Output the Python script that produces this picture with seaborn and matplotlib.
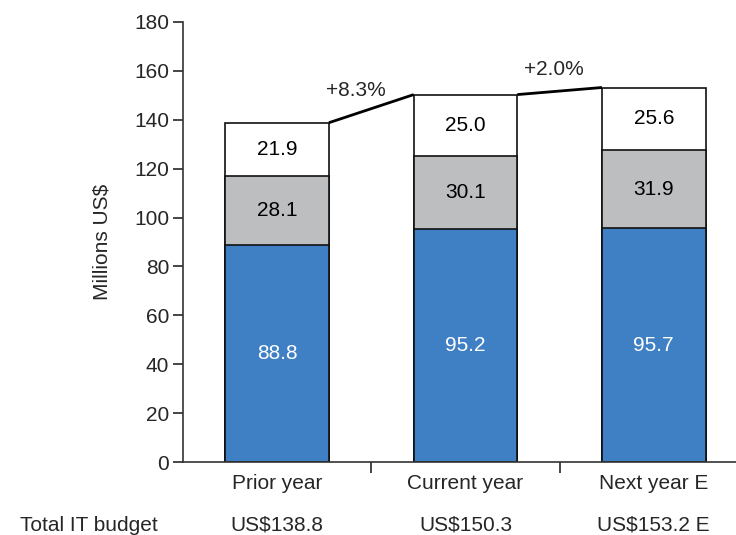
import numpy as np
import pandas as pd
import matplotlib
matplotlib.use('Agg')
import matplotlib.pyplot as plt
import seaborn as sb

categories = ['Prior year', 'Current year', 'Next year E']
blue_vals = [88.8, 95.2, 95.7]
grey_vals = [28.1, 30.1, 31.9]
white_vals = [21.9, 25.0, 25.6]
budget_labels = ['US$138.8', 'US$150.3', 'US$153.2 E']
growth_labels = ['+8.3%', '+2.0%']

sb.set_style('ticks')
plt.rcParams['font.family'] = ['Liberation Sans', 'DejaVu Sans']

df = pd.DataFrame({'cat': categories, 'blue': blue_vals, 'grey': grey_vals, 'white': white_vals})
df['bg'] = df.blue + df.grey
df['total'] = df.bg + df.white

fig = plt.figure(figsize=(7.36, 5.35), dpi=100)
ax = fig.add_axes([0.2486, 0.1364, 0.76, 0.8225])

w = 0.55
sb.barplot(data=df, x='cat', y='total', color='white', edgecolor='#111111', linewidth=1.2, width=w, saturation=1, ax=ax)
sb.barplot(data=df, x='cat', y='bg', color='#bcbec0', edgecolor='#111111', linewidth=1.2, width=w, saturation=1, ax=ax)
sb.barplot(data=df, x='cat', y='blue', color='#3f80c4', edgecolor='#111111', linewidth=1.2, width=w, saturation=1, ax=ax)

fs = 15
for i, r in df.iterrows():
    ax.text(i, r.blue / 2, f'{r.blue:.1f}', ha='center', va='center', color='white', fontsize=fs)
    ax.text(i, r.blue + r.grey / 2, f'{r.grey:.1f}', ha='center', va='center', color='black', fontsize=fs)
    ax.text(i, r.bg + r.white / 2, f'{r.white:.1f}', ha='center', va='center', color='black', fontsize=fs)

# connectors between bar tops
tot = df.total.values
for i in range(2):
    ax.plot([i + w / 2, i + 1 - w / 2], [tot[i], tot[i + 1]], color='black', lw=2, solid_capstyle='butt')
ax.text(0.42, 152, growth_labels[0], ha='center', va='center', fontsize=fs)
ax.text(1.47, 160.5, growth_labels[1], ha='center', va='center', fontsize=fs)

ax.set_xlim(-0.5, 2.47)
ax.set_ylim(0, 180)
ax.set_yticks(range(0, 181, 20))
ax.tick_params(axis='y', labelsize=fs, length=7, width=1.2, direction='out', pad=3)
ax.set_xticks([0.5, 1.5])
ax.set_xticklabels([])
ax.tick_params(axis='x', length=8, width=1.2, direction='out')
for i, c in enumerate(categories):
    ax.text(i, -5, c, ha='center', va='top', fontsize=fs)
    ax.text(i, -22, budget_labels[i], ha='center', va='top', fontsize=fs)
ax.text(-1.0, -22, 'Total IT budget', ha='center', va='top', fontsize=fs)
ax.set_xlabel('')
ax.set_ylabel('Millions US$', fontsize=fs, labelpad=16)
for s in ['top', 'right']:
    ax.spines[s].set_visible(False)
for s in ['left', 'bottom']:
    ax.spines[s].set_linewidth(1.2)
    ax.spines[s].set_color('#333333')

fig.savefig('out.png', dpi=100)
